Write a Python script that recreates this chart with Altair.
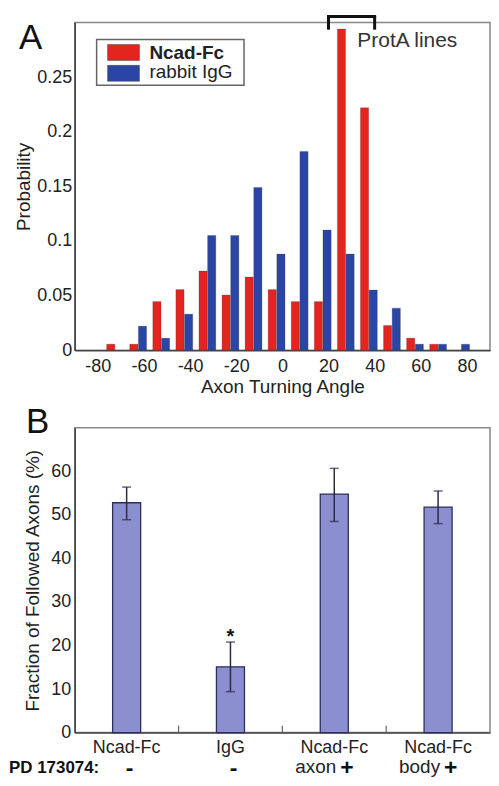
import altair as alt
import pandas as pd

FONT = "Liberation Sans"

# ---------------- Panel A data ----------------
angles = [-70, -60, -50, -40, -30, -20, -10, 0, 10, 20, 30, 40, 50, 60, 70, 80]
ncad_prob = [0.0055, 0.0055, 0.0445, 0.0555, 0.0725, 0.0505, 0.067, 0.0555,
             0.0445, 0.0445, 0.294, 0.222, 0.0225, 0.011, 0.0055, 0.0]
igg_prob = [0.0, 0.022, 0.011, 0.033, 0.105, 0.105, 0.149, 0.088,
            0.182, 0.11, 0.088, 0.055, 0.0385, 0.0055, 0.0055, 0.0055]
series_names = ["Ncad-Fc", "rabbit IgG"]
series_colors = ["#e3241f", "#2b45a5"]
x_ticks_a = [-80, -60, -40, -20, 0, 20, 40, 60, 80]
y_ticks_a = [0, 0.05, 0.1, 0.15, 0.2, 0.25]
prota_range = [20, 40]
prota_label = ["ProtA lines"]

# ---------------- Panel B data ----------------
conditions = ["Ncad-Fc", "IgG", "Ncad-Fc axon", "Ncad-Fc body"]
followed = [52.8, 15.1, 54.8, 51.8]
err_low = [48.9, 9.4, 48.5, 48.0]
err_high = [56.4, 20.8, 60.7, 55.5]
significance = ["", "*", "", ""]
pd_words = ["", "", "axon", "body"]
pd_signs = ["-", "-", "+", "+"]
y_ticks_b = [0, 10, 20, 30, 40, 50, 60]

# ---------------- Panel A ----------------
rows = []
for a, p in zip(angles, ncad_prob):
    rows.append({"angle": a, "series": series_names[0], "prob": p})
for a, p in zip(angles, igg_prob):
    rows.append({"angle": a, "series": series_names[1], "prob": p})
hist_df = pd.DataFrame(rows)

WA, HA = 417, 329
xa = alt.Scale(domain=[-90, 90], nice=False, zero=False)
ya = alt.Scale(domain=[0, 0.3], nice=False)

bars_a = alt.Chart(hist_df).transform_filter("datum.prob > 0").transform_calculate(
    xs="datum.angle - 2.5 + (datum.series == 'Ncad-Fc' ? -3.65 : 0.1)",
).transform_calculate(xe="datum.xs + 3.55").mark_bar(
    stroke="#333", strokeWidth=0.4, strokeOpacity=0.6
).encode(
    x=alt.X("xs:Q", scale=xa, axis=alt.Axis(
        values=x_ticks_a, ticks=False, labelExpr="'' + datum.value",
        labelPadding=7, title="Axon Turning Angle", titlePadding=2,
        grid=False)),
    x2="xe:Q",
    y=alt.Y("prob:Q", scale=ya, axis=alt.Axis(
        values=y_ticks_a, ticks=False, labelExpr="'' + datum.value",
        labelPadding=3, title="Probability", titlePadding=3, grid=False)),
    y2=alt.datum(0),
    color=alt.Color("series:N", scale=alt.Scale(domain=series_names, range=series_colors), legend=None),
)

br_df = pd.DataFrame({"lo": [prota_range[0]], "hi": [prota_range[1]]})
bracket_top = alt.Chart(br_df).mark_rule(color="#111", strokeWidth=3, strokeCap="square").encode(
    x=alt.X("lo:Q", scale=xa), x2="hi:Q", y=alt.datum(0.3056))
legs_df = pd.DataFrame({"a": prota_range})
bracket_legs = alt.Chart(legs_df).mark_rule(color="#111", strokeWidth=3).encode(
    x=alt.X("a:Q", scale=xa), y=alt.datum(0.3056), y2=alt.datum(0.2935))
prota_text = alt.Chart(pd.DataFrame({"t": prota_label})).mark_text(
    align="left", baseline="alphabetic", fontSize=21, font=FONT, color="#333"
).encode(x=alt.datum(32.5), y=alt.datum(0.2772), text="t:N")

# manual legend
leg_box = alt.Chart(pd.DataFrame({"k": [0]})).mark_rect(
    fill="white", stroke="#666", strokeWidth=1.5).encode(
    x=alt.value(22), x2=alt.value(170), y=alt.value(17), y2=alt.value(63))
leg_layers = []
for i, (name, col) in enumerate(zip(series_names, series_colors)):
    d = pd.DataFrame({"t": [name]})
    leg_layers.append(alt.Chart(d).mark_rect(color=col, stroke="#444", strokeWidth=0.5).encode(
        x=alt.value(33), x2=alt.value(65), y=alt.value(22 + 21 * i), y2=alt.value(38 + 21 * i)))
    leg_layers.append(alt.Chart(d).mark_text(
        align="left", baseline="alphabetic", fontSize=19, font=FONT, color="#222",
        fontWeight="bold" if i == 0 else "normal").encode(
        x=alt.value(75), y=alt.value(37 + 19 * i), text="t:N"))

label_a = alt.Chart(pd.DataFrame({"t": ["A"]})).mark_text(
    align="left", baseline="alphabetic", fontSize=35, font=FONT, color="#111").encode(
    x=alt.value(-56), y=alt.value(27), text="t:N")

panel_a = alt.layer(bars_a, bracket_top, bracket_legs, prota_text, leg_box, *leg_layers, label_a).properties(
    width=WA, height=HA)

# ---------------- Panel B ----------------
WB, HB = 417, 306
b_df = pd.DataFrame({"cond": conditions, "val": followed, "lo": err_low, "hi": err_high,
                     "sig": significance, "word": pd_words, "sign": pd_signs})
xb = alt.Scale(domain=conditions, paddingInner=0, paddingOuter=0)
yb = alt.Scale(domain=[0, 70], nice=False)

base_b = alt.Chart(b_df)
bars_b = base_b.mark_bar(width=alt.RelativeBandSize(0.27), color="#8b8fd0",
                         stroke="#2e2e5c", strokeWidth=1.3).encode(
    x=alt.X("cond:N", scale=xb, sort=conditions, axis=alt.Axis(
        title=None, ticks=False, labelAngle=0, labelPadding=6,
        labelExpr="split(datum.label, ' ')[0]")),
    y=alt.Y("val:Q", scale=yb, axis=alt.Axis(
        values=y_ticks_b, ticks=False, labelPadding=4, grid=False,
        title="Fraction of Followed Axons (%)", titlePadding=8)),
)
err_rule = base_b.mark_rule(color="#2a2a40", strokeWidth=1.5).encode(
    x=alt.X("cond:N", scale=xb, sort=conditions), y="lo:Q", y2="hi:Q")
err_lo = base_b.mark_tick(color="#2a2a40", thickness=1.5, size=9).encode(
    x=alt.X("cond:N", scale=xb, sort=conditions), y="lo:Q")
err_hi = base_b.mark_tick(color="#2a2a40", thickness=1.5, size=9).encode(
    x=alt.X("cond:N", scale=xb, sort=conditions), y="hi:Q")
star = base_b.transform_filter("datum.sig != ''").mark_text(
    fontSize=20, fontWeight="bold", font=FONT, baseline="alphabetic", color="#111", dy=1).encode(
    x=alt.X("cond:N", scale=xb, sort=conditions), y="hi:Q", text="sig:N")
band_ticks = base_b.transform_filter(alt.FieldOneOfPredicate(field="cond", oneOf=conditions[1:])).mark_rule(
    color="#666", strokeWidth=1.2).encode(
    x=alt.X("cond:N", scale=xb, sort=conditions, bandPosition=0),
    y=alt.datum(0), y2=alt.datum(1.6))
words = base_b.transform_filter("datum.word != ''").mark_text(
    align="right", baseline="alphabetic", fontSize=19, font=FONT, color="#222", dx=2).encode(
    x=alt.X("cond:N", scale=xb, sort=conditions), y=alt.value(HB + 41), text="word:N")
minus = base_b.transform_filter("datum.word == ''").mark_text(
    align="center", baseline="alphabetic", fontSize=23, fontWeight="bold", font=FONT, color="#111", dx=3).encode(
    x=alt.X("cond:N", scale=xb, sort=conditions), y=alt.value(HB + 43), text="sign:N")
plus = base_b.transform_filter("datum.word != ''").mark_text(
    align="left", baseline="alphabetic", fontSize=23, fontWeight="bold", font=FONT, color="#111", dx=6).encode(
    x=alt.X("cond:N", scale=xb, sort=conditions), y=alt.value(HB + 43), text="sign:N")
pd_label = alt.Chart(pd.DataFrame({"t": ["PD 173074:"]})).mark_text(
    align="left", baseline="alphabetic", fontSize=17, fontWeight="bold", font=FONT, color="#111").encode(
    x=alt.value(-66), y=alt.value(HB + 41), text="t:N")
label_b = alt.Chart(pd.DataFrame({"t": ["B"]})).mark_text(
    align="left", baseline="alphabetic", fontSize=35, font=FONT, color="#111").encode(
    x=alt.value(-49), y=alt.value(5), text="t:N")

panel_b = alt.layer(bars_b, err_rule, err_lo, err_hi, star, band_ticks, words, minus, plus,
                    pd_label, label_b).properties(width=WB, height=HB)

chart = alt.vconcat(panel_a, panel_b, spacing=7).configure(
    padding={"left": 0, "top": 3, "right": 0, "bottom": 0}, font=FONT
).configure_view(stroke="#888", strokeWidth=1.5).configure_axis(
    labelFont=FONT, titleFont=FONT, labelFontSize=18, titleFontSize=19,
    labelColor="#222", titleColor="#222", titleFontWeight="normal",
    domainColor="#444", domainWidth=1.5)

chart.save("out.html", embed_options={"renderer": "svg", "actions": False})
